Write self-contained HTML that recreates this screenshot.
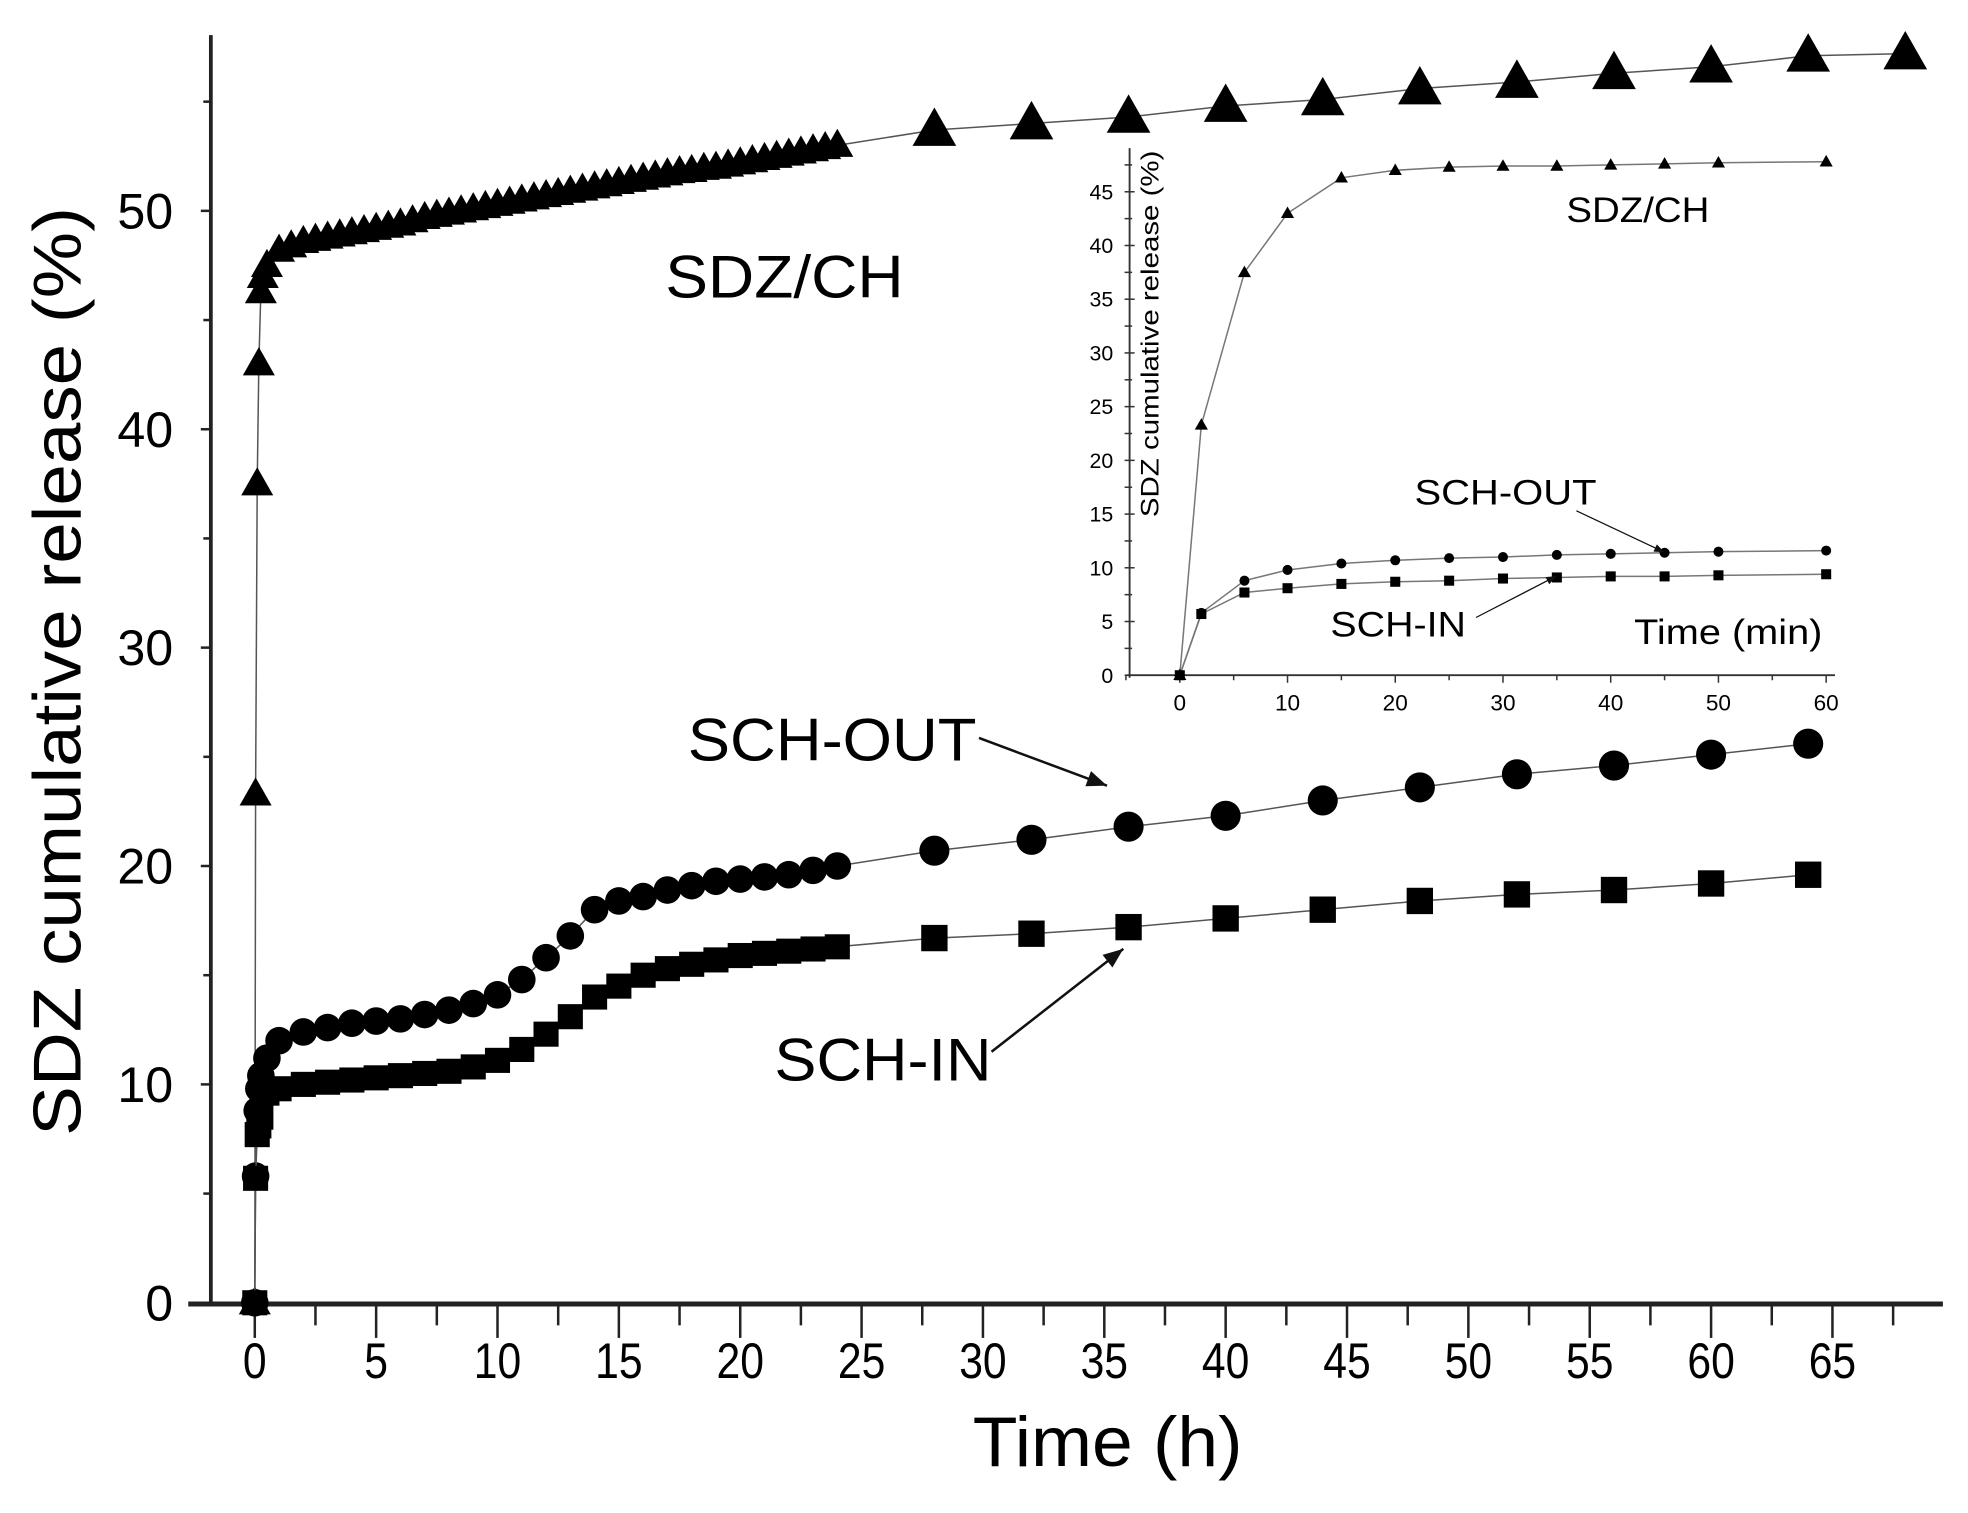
<!DOCTYPE html>
<html><head><meta charset="utf-8"><style>
html,body{margin:0;padding:0;background:#fff}
svg{display:block}
text{font-family:"Liberation Sans",sans-serif}
</style></head><body>
<svg id="chart" width="1968" height="1513" viewBox="0 0 1568 1205.5" preserveAspectRatio="none" xmlns="http://www.w3.org/2000/svg"></svg>
<script>
// ---- main chart data ----
const chTimes = [0,0.033,0.1,0.167,0.25,0.33,0.5,1,1.5,2,2.5,3,3.5,4,4.5,5,5.5,6,6.5,7,7.5,8,8.5,9,9.5,10,10.5,11,11.5,12,12.5,13,13.5,14,14.5,15,15.5,16,16.5,17,17.5,18,18.5,19,19.5,20,20.5,21,21.5,22,22.5,23,23.5,24,28,32,36,40,44,48,52,56,60,64,68];
const chValues = [0,23.3,37.5,43,46.3,47,47.5,48.2,48.4,48.6,48.7,48.8,48.9,49.0,49.1,49.2,49.3,49.4,49.55,49.7,49.8,49.9,50.0,50.1,50.2,50.3,50.4,50.5,50.6,50.7,50.8,50.9,51.0,51.1,51.2,51.3,51.4,51.5,51.6,51.7,51.8,51.85,51.95,52.0,52.1,52.2,52.3,52.4,52.5,52.6,52.7,52.8,52.9,53.0,53.7,54.0,54.3,54.8,55.1,55.6,55.9,56.3,56.6,57.1,57.2];
const outTimes = [0,0.033,0.1,0.167,0.25,0.5,1,2,3,4,5,6,7,8,9,10,11,12,13,14,15,16,17,18,19,20,21,22,23,24,28,32,36,40,44,48,52,56,60,64];
const outValues = [0,5.8,8.8,9.8,10.4,11.2,12.0,12.4,12.6,12.8,12.9,13.0,13.2,13.4,13.7,14.1,14.8,15.8,16.8,18.0,18.4,18.6,18.9,19.1,19.3,19.4,19.5,19.6,19.8,20.0,20.7,21.2,21.8,22.3,23.0,23.6,24.2,24.6,25.1,25.6];
const inTimes = [0,0.033,0.1,0.167,0.25,0.5,1,2,3,4,5,6,7,8,9,10,11,12,13,14,15,16,17,18,19,20,21,22,23,24,28,32,36,40,44,48,52,56,60,64];
const inValues = [0,5.7,7.7,8.1,8.5,9.6,9.8,10.0,10.1,10.2,10.3,10.4,10.5,10.6,10.8,11.1,11.6,12.3,13.1,14.0,14.5,15.0,15.3,15.5,15.7,15.9,16.0,16.1,16.2,16.3,16.7,16.9,17.2,17.6,18.0,18.4,18.7,18.9,19.2,19.6];
const xTicks = [0,5,10,15,20,25,30,35,40,45,50,55,60,65];
const yTicks = [0,10,20,30,40,50];
// ---- inset data ----
const insetMinutes = [0,2,6,10,15,20,25,30,35,40,45,50,60];
const insetCH = [0,23.3,37.5,43,46.3,47,47.3,47.4,47.4,47.5,47.6,47.7,47.8];
const insetOUT = [0,5.8,8.8,9.8,10.4,10.7,10.9,11.0,11.2,11.3,11.4,11.5,11.6];
const insetIN = [0,5.7,7.7,8.1,8.5,8.7,8.8,9.0,9.1,9.2,9.2,9.3,9.4];
const insetXTicks = [0,10,20,30,40,50,60];
const insetYTicks = [0,5,10,15,20,25,30,35,40,45];

const svg = document.getElementById('chart');
const NS = 'http://www.w3.org/2000/svg';
function mk(tag, attrs, parent){const e=document.createElementNS(NS,tag);for(const k in attrs)e.setAttribute(k,attrs[k]);(parent||svg).appendChild(e);return e;}

const X = t => 203 + t*(1257/65);
const Y = v => 1038 - v*17.4;
let el;
el = mk('line',{x1:168,y1:28,x2:168,y2:1040,stroke:'#222','stroke-width':3});


el = mk('line',{x1:150,y1:1039,x2:1548,y2:1039,stroke:'#222','stroke-width':4});


for(let t=0;t<=67.5;t+=2.5){
  const major = (t%5===0);
  el = mk('line',{x1:X(t),y1:1040,x2:X(t),y2:major?1066:1056,stroke:'#222','stroke-width':2});
  
  
}
xTicks.forEach(t=>{
  el = mk('text',{x:X(t),y:1098,'font-size':40,'text-anchor':'middle',transform:`translate(${X(t)},0) scale(0.85,1) translate(${-X(t)},0)`});
  el.textContent = t;
  
  
});
for(let v=0;v<=55;v+=5){
  el = mk('line',{x1:v%10===0?160:162,y1:Y(v),x2:168,y2:Y(v),stroke:'#222','stroke-width':2});
  
  
}
yTicks.forEach(v=>{
  el = mk('text',{x:138,y:Y(v)+14,'font-size':40,'text-anchor':'end'});
  el.textContent = v;
  
  
});
el = mk('text',{x:775,y:1168,'font-size':56,textLength:215,lengthAdjust:'spacingAndGlyphs'});
el.textContent='Time (h)';


el = mk('text',{x:-905,y:64,'font-size':54,textLength:740,lengthAdjust:'spacingAndGlyphs',transform:'rotate(-90)'});
el.textContent='SDZ cumulative release (%)';



function drawSeries(ts, vs, X, Y, name, shape, big, small, split, lineColor, lw){
  const g = mk('g',{});
  
  
  const pts = ts.map((t,i)=>X(t)+','+Y(vs[i])).join(' ');
  const pl = mk('polyline',{points:pts,fill:'none',stroke:lineColor,'stroke-width':lw},g);
  
  
  ts.forEach((t,i)=>{
    const s = (t>split)?big:small;
    const cx=X(t), cy=Y(vs[i]);
    let m;
    if(shape==='tri') m = mk('polygon',{points:`${cx},${cy-s*0.6} ${cx-s*0.58},${cy+s*0.42} ${cx+s*0.58},${cy+s*0.42}`,fill:'#000'},g);
    else if(shape==='circ') m = mk('circle',{cx:cx,cy:cy,r:s/2,fill:'#000'},g);
    else m = mk('rect',{x:cx-s/2,y:cy-s/2,width:s,height:s,fill:'#000'},g);
    
    
  });
}
drawSeries(chTimes,chValues,X,Y,'sdz-ch','tri',30,22,24.5,'#555',1.2);
drawSeries(outTimes,outValues,X,Y,'sch-out','circ',24,22,24.5,'#555',1.2);
drawSeries(inTimes,inValues,X,Y,'sch-in','sq',21,20,24.5,'#555',1.2);

function label(x,y,txt,size,len,name){
  const e = mk('text',{x:x,y:y,'font-size':size,textLength:len,lengthAdjust:'spacingAndGlyphs'});
  e.textContent = txt;
  
  
}
function arrow(x1,y1,x2,y2,name,w,h){
  const g = mk('g',{});
  
  
  mk('line',{x1:x1,y1:y1,x2:x2,y2:y2,stroke:'#111','stroke-width':w},g);
  const a=Math.atan2(y2-y1,x2-x1);
  const p1=[x2-h*Math.cos(a)+h*0.4*Math.sin(a), y2-h*Math.sin(a)-h*0.4*Math.cos(a)];
  const p2=[x2-h*Math.cos(a)-h*0.4*Math.sin(a), y2-h*Math.sin(a)+h*0.4*Math.cos(a)];
  mk('polygon',{points:`${x2},${y2} ${p1} ${p2}`,fill:'#111'},g);
}
label(530,237,'SDZ/CH',48,190,'sdz-ch-label');
label(548,606,'SCH-OUT',48,230,'sch-out-label');
label(617,861,'SCH-IN',48,173,'sch-in-label');
arrow(780,588,882,626,'sch-out-arrow',2,16);
arrow(790,838,895,756,'sch-in-arrow',2,16);

// ---- inset ----
const IX = m => 940 + m*(515/60);
const IY = v => 538 - v*8.56;
el = mk('line',{x1:900,y1:118,x2:900,y2:540,stroke:'#333','stroke-width':1.5});


el = mk('line',{x1:898,y1:538,x2:1462,y2:538,stroke:'#333','stroke-width':1.5});


for(let m=-5;m<=60;m+=5){
  el = mk('line',{x1:IX(m),y1:538,x2:IX(m),y2:m%10===0?544:542,stroke:'#333','stroke-width':1.2});
  
  
}
insetXTicks.forEach(m=>{
  el = mk('text',{x:IX(m),y:566,'font-size':18,'text-anchor':'middle'});
  el.textContent=m;
  
  
});
for(let v=0;v<=47.5;v+=2.5){
  el = mk('line',{x1:896,y1:IY(v),x2:v%5===0?904:902,y2:IY(v),stroke:'#333','stroke-width':1.2});
  
  
}
insetYTicks.forEach(v=>{
  el = mk('text',{x:887,y:IY(v)+6,'font-size':17,'text-anchor':'end'});
  el.textContent=v;
  
  
});
el = mk('text',{x:-412,y:923,'font-size':20,textLength:292,lengthAdjust:'spacingAndGlyphs',transform:'rotate(-90)'});
el.textContent='SDZ cumulative release (%)';


drawSeries(insetMinutes,insetCH,IX,IY,'inset-sdz-ch','tri',9,9,0,'#777',1.2);
drawSeries(insetMinutes,insetOUT,IX,IY,'inset-sch-out','circ',8,8,0,'#777',1.2);
drawSeries(insetMinutes,insetIN,IX,IY,'inset-sch-in','sq',8,8,0,'#777',1.2);
label(1248,177,'SDZ/CH',28,114,'inset-sdz-ch-label');
label(1127,402,'SCH-OUT',28,145,'inset-sch-out-label');
label(1060,507,'SCH-IN',28,108,'inset-sch-in-label');
label(1302,513,'Time (min)',28,150,'inset-x-axis-title');
arrow(1256,407,1326,440,'inset-sch-out-arrow',1,8);
arrow(1176,492,1240,459,'inset-sch-in-arrow',1,8);
</script>
</body></html>
